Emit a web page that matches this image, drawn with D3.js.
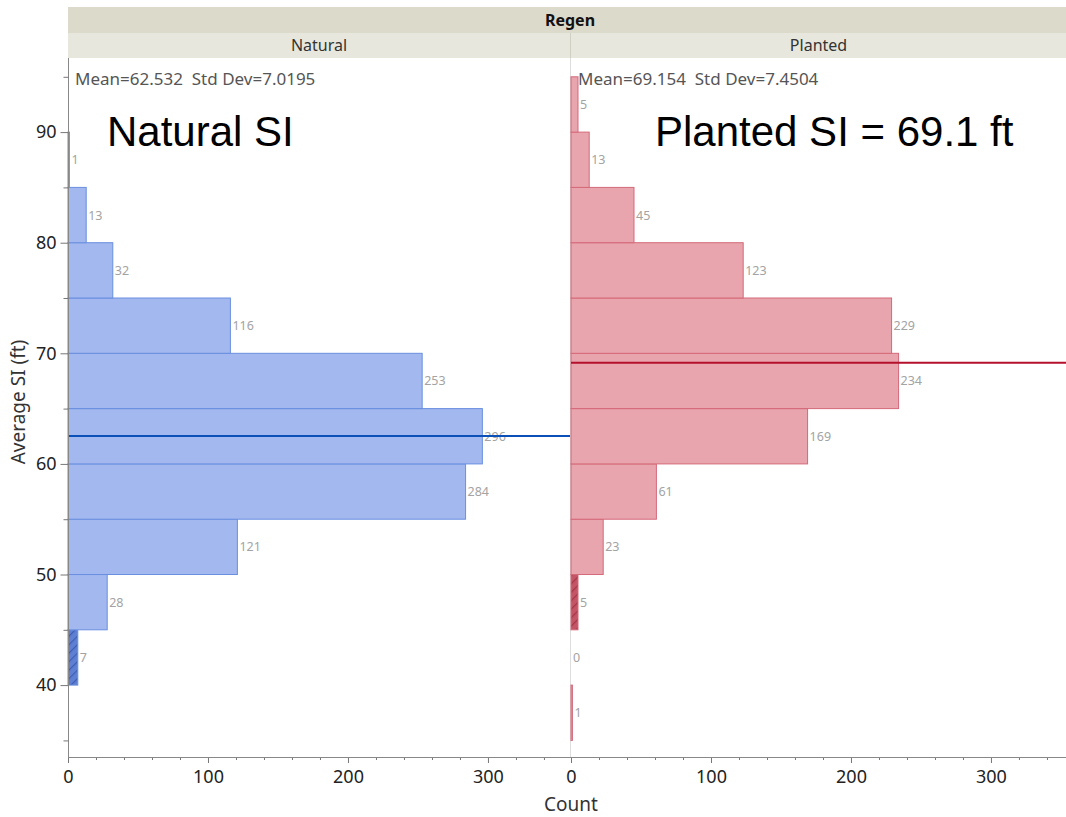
<!DOCTYPE html>
<html>
<head>
<meta charset="utf-8">
<script src="https://cdn.jsdelivr.net/npm/d3@7"></script>
<style>
  html, body { margin: 0; padding: 0; background: #fff; }
  svg { display: block; }
</style>
</head>
<body>
<svg id="chart" width="1066" height="817"></svg>
<script>
// Histogram bins of Average SI (ft), 5 ft wide, by regeneration type
const binStarts = [35, 40, 45, 50, 55, 60, 65, 70, 75, 80, 85, 90];
const naturalCounts = [null, 7, 28, 121, 284, 296, 253, 116, 32, 13, 1, null];
const plantedCounts = [1, 0, 5, 23, 61, 169, 234, 229, 123, 45, 13, 5];
const naturalHighlight = [40];
const plantedHighlight = [45];
const panelNames = ["Natural", "Planted"];
const groupTitle = "Regen";
const summaryStats = [
  { mean: 62.532, sd: 7.0195 },
  { mean: 69.154, sd: 7.4504 }
];
const overlayTitles = ["Natural SI", "Planted SI = 69.1 ft"];
const yMajorTicks = [40, 50, 60, 70, 80, 90];
const yMinorTicks = [35, 45, 55, 65, 75, 85, 95];
const xMajorTicks = [0, 100, 200, 300];
const xMinorTicks = [20, 40, 60, 80, 120, 140, 160, 180, 220, 240, 260, 280, 320, 340];

const binWidth = 5;
const svg = d3.select("#chart");
const font = "'Noto Sans', 'Open Sans', sans-serif";

const plotTop = 58, plotBottom = 757;
const y = d3.scaleLinear().domain([33.5, 96.7]).range([plotBottom, plotTop]);

const panels = [
  {
    name: panelNames[0], counts: naturalCounts, highlight: naturalHighlight,
    stats: summaryStats[0], title: overlayTitles[0], titleX: 107,
    x: d3.scaleLinear().domain([0, 358.6]).range([68, 570]),
    fill: "#a2b8ee", stroke: "#6a8fe0", hiFill: "#5f7fd2", hiLine: "#3f5fb6",
    meanColor: "#0b4fb8"
  },
  {
    name: panelNames[1], counts: plantedCounts, highlight: plantedHighlight,
    stats: summaryStats[1], title: overlayTitles[1], titleX: 655,
    x: d3.scaleLinear().domain([0, 358.6]).range([571, 1073]),
    fill: "#e9a5ad", stroke: "#d4697a", hiFill: "#c45566", hiLine: "#a23647",
    meanColor: "#b5102e"
  }
];

// hatch patterns for highlighted bins
const defs = svg.append("defs");
panels.forEach((p, i) => {
  const pat = defs.append("pattern")
    .attr("id", "hatch" + i)
    .attr("patternUnits", "userSpaceOnUse")
    .attr("width", 6).attr("height", 6)
    .attr("patternTransform", "rotate(45)");
  pat.append("rect").attr("width", 6).attr("height", 6).attr("fill", p.hiFill);
  pat.append("line").attr("x1", 0).attr("y1", 0).attr("x2", 0).attr("y2", 6)
    .attr("stroke", p.hiLine).attr("stroke-width", 2.5);
});

// header bands
const headLeft = 68, headRight = 1066;
svg.append("rect").attr("x", headLeft).attr("y", 7).attr("width", headRight - headLeft).attr("height", 26)
  .attr("fill", "#dcdacb");
svg.append("text").attr("x", 570).attr("y", 26).attr("text-anchor", "middle")
  .attr("font-family", font).attr("font-size", 16).attr("font-weight", "bold").attr("fill", "#111")
  .text(groupTitle);
svg.append("rect").attr("x", headLeft).attr("y", 33).attr("width", headRight - headLeft).attr("height", 25)
  .attr("fill", "#e8e7dd");
svg.append("line").attr("x1", 570.5).attr("x2", 570.5).attr("y1", 33).attr("y2", 58)
  .attr("stroke", "#cfcfc4");
panels.forEach(p => {
  const [a, b] = p.x.range();
  const cx = (a + Math.min(b, headRight)) / 2;
  svg.append("text").attr("x", cx).attr("y", 51).attr("text-anchor", "middle")
    .attr("font-family", font).attr("font-size", 16).attr("fill", "#333")
    .text(p.name);
});

// panel separator
svg.append("line").attr("x1", 570.5).attr("x2", 570.5).attr("y1", plotTop).attr("y2", plotBottom)
  .attr("stroke", "#dddddd");

panels.forEach((p, i) => {
  const g = svg.append("g");
  const bins = binStarts.map((s, k) => ({ start: s, count: p.counts[k] }))
    .filter(d => d.count !== null);

  g.selectAll("rect.bar").data(bins.filter(d => d.count > 0)).join("rect")
    .attr("class", "bar")
    .attr("x", p.x(0))
    .attr("y", d => y(d.start + binWidth))
    .attr("width", d => p.x(d.count) - p.x(0))
    .attr("height", d => y(d.start) - y(d.start + binWidth))
    .attr("fill", d => p.highlight.includes(d.start) ? `url(#hatch${i})` : p.fill)
    .attr("stroke", p.stroke)
    .attr("stroke-width", 1);

  g.selectAll("text.val").data(bins).join("text")
    .attr("class", "val")
    .attr("x", d => p.x(d.count) + 2)
    .attr("y", d => y(d.start + binWidth / 2) + 4.5)
    .attr("font-family", font).attr("font-size", 12.5).attr("fill", "#a3a3a3")
    .text(d => d.count);

  // mean line
  const [x0, x1] = p.x.range();
  g.append("line")
    .attr("x1", x0).attr("x2", Math.min(x1, 1066))
    .attr("y1", y(p.stats.mean)).attr("y2", y(p.stats.mean))
    .attr("stroke", p.meanColor).attr("stroke-width", 2);

  // summary text
  g.append("text")
    .attr("x", x0 + 7).attr("y", 85)
    .attr("font-family", font).attr("font-size", 17).attr("fill", "#555")
    .attr("xml:space", "preserve")
    .text(`Mean=${p.stats.mean}  Std Dev=${p.stats.sd}`);

  // overlay title
  g.append("text")
    .attr("x", p.titleX).attr("y", 146)
    .attr("font-family", "'Liberation Sans', Arial, sans-serif")
    .attr("font-size", 42).attr("fill", "#000")
    .text(p.title);

  // x axis
  const axMajor = d3.axisBottom(p.x).tickValues(xMajorTicks).tickSize(6).tickSizeOuter(0)
    .tickFormat(d3.format("d"));
  const gx = svg.append("g").attr("transform", `translate(0,${plotBottom})`).call(axMajor);
  gx.select(".domain").remove();
  gx.selectAll("line").attr("stroke", "#777");
  gx.selectAll("text").attr("font-family", font).attr("font-size", 18).attr("fill", "#222").attr("dy", "0.95em");
  const axMinor = d3.axisBottom(p.x).tickValues(xMinorTicks).tickSize(3).tickFormat("");
  const gm = svg.append("g").attr("transform", `translate(0,${plotBottom})`).call(axMinor);
  gm.select(".domain").remove();
  gm.selectAll("line").attr("stroke", "#777");
});

// x baseline
svg.append("line").attr("x1", 68).attr("x2", 1066).attr("y1", plotBottom + 0.5).attr("y2", plotBottom + 0.5)
  .attr("stroke", "#888");

// y axis
const yMajor = d3.axisLeft(y).tickValues(yMajorTicks).tickSize(8).tickSizeOuter(0);
const gy = svg.append("g").attr("transform", "translate(68.5,0)").call(yMajor);
gy.select(".domain").attr("d", `M0,${plotTop}V${plotBottom}`).attr("stroke", "#888");
gy.selectAll("line").attr("stroke", "#777");
gy.selectAll("text").attr("font-family", font).attr("font-size", 18).attr("fill", "#222").attr("dx", "-0.05em");
const yMinor = d3.axisLeft(y).tickValues(yMinorTicks).tickSize(5).tickFormat("");
const gym = svg.append("g").attr("transform", "translate(68.5,0)").call(yMinor);
gym.select(".domain").remove();
gym.selectAll("line").attr("stroke", "#777");

// axis titles
svg.append("text").attr("x", 571).attr("y", 811).attr("text-anchor", "middle")
  .attr("font-family", font).attr("font-size", 19).attr("fill", "#333").text("Count");
svg.append("text").attr("transform", `translate(25,402) rotate(-90)`)
  .attr("text-anchor", "middle")
  .attr("font-family", font).attr("font-size", 19).attr("fill", "#333").text("Average SI (ft)");
</script>
</body>
</html>
